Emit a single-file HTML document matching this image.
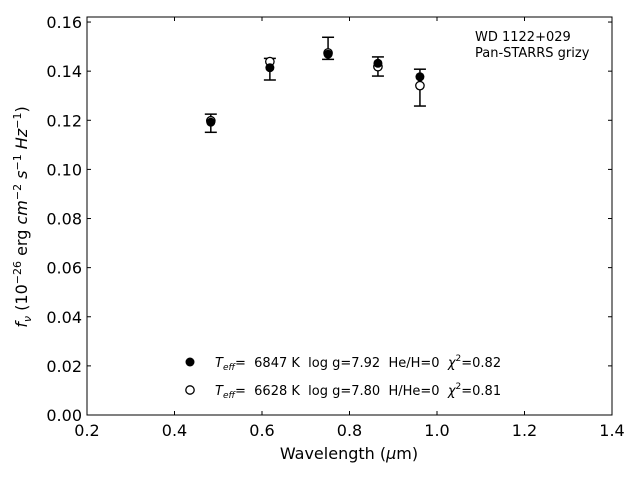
<!DOCTYPE html>
<html><head><meta charset="utf-8"><style>
body{margin:0;background:#fff;}
svg text{font-family:"DejaVu Sans","Liberation Sans",sans-serif;fill:#000;white-space:pre;}
</style></head><body>
<svg id="chart" width="640" height="480" xmlns="http://www.w3.org/2000/svg" xml:space="preserve">
<rect x="87" y="17" width="525" height="398" fill="none" stroke="#000" stroke-width="1"/>
<g id="ticks"></g>
<g id="marks"></g>
<text x="349" y="459" text-anchor="middle" font-size="16">Wavelength (<tspan font-style="italic">μ</tspan>m)</text>
<text transform="translate(27,217) rotate(-90)" text-anchor="middle" font-size="16"><tspan font-style="italic">f<tspan font-size="11" dy="4">ν</tspan></tspan><tspan dy="-4"> (10</tspan><tspan font-size="11" dy="-6">−26</tspan><tspan dy="6"> erg </tspan><tspan font-style="italic">cm</tspan><tspan font-size="11" dy="-6">−2</tspan><tspan dy="6" font-style="italic"> s</tspan><tspan font-size="11" dy="-6">−1</tspan><tspan dy="6" font-style="italic"> Hz</tspan><tspan font-size="11" dy="-6">−1</tspan><tspan dy="6">)</tspan></text>
<text x="475" y="41" font-size="13">WD 1122+029</text>
<text x="475" y="57" font-size="13">Pan-STARRS grizy</text>
<g>
<circle cx="190" cy="362" r="4.5" fill="#000"/>
<text x="215" y="367" font-size="13"><tspan font-style="italic">T</tspan><tspan font-style="italic" font-size="9" dy="3">eff</tspan><tspan dy="-3">=  6847 K  log g=7.92  He/H=0  </tspan><tspan font-style="italic">χ</tspan><tspan font-size="9" dy="-6">2</tspan><tspan dy="6">=0.82</tspan></text>
<circle cx="190" cy="390" r="4.2" fill="#fff" stroke="#000" stroke-width="1.3"/>
<text x="215" y="395" font-size="13"><tspan font-style="italic">T</tspan><tspan font-style="italic" font-size="9" dy="3">eff</tspan><tspan dy="-3">=  6628 K  log g=7.80  H/He=0  </tspan><tspan font-style="italic">χ</tspan><tspan font-size="9" dy="-6">2</tspan><tspan dy="6">=0.81</tspan></text>
</g>
</svg>
<script>
const wavelengths=[0.483,0.618,0.751,0.865,0.961];
const observedFlux=[0.1188,0.1408,0.1493,0.1419,0.1333];
const observedErr=[0.0037,0.0044,0.0045,0.0039,0.0075];
const modelHeH=[0.1192,0.1414,0.1469,0.1432,0.1377];
const modelHHe=[0.1198,0.1439,0.1474,0.1418,0.1341];
const xTicks=[0.2,0.4,0.6,0.8,1.0,1.2,1.4];
const xTickLabels=["0.2","0.4","0.6","0.8","1.0","1.2","1.4"];
const yTicks=[0,0.02,0.04,0.06,0.08,0.10,0.12,0.14,0.16];
const yTickLabels=["0.00","0.02","0.04","0.06","0.08","0.10","0.12","0.14","0.16"];
const NS="http://www.w3.org/2000/svg";
const L=87,R=612,T=17,B=415;
function xs(v){return L+(v-0.2)/1.2*(R-L);}
function ys(v){return B-v*2456;}
function mk(tag,attrs,parent){const e=document.createElementNS(NS,tag);for(const k in attrs)e.setAttribute(k,attrs[k]);parent.appendChild(e);return e;}
const tg=document.getElementById('ticks'),mg=document.getElementById('marks');
xTicks.forEach((v,i)=>{const x=xs(v);
 let t=mk('line',{x1:x,x2:x,y1:B,y2:B-4,stroke:'#000'},tg);
 
 
 let t2=mk('line',{x1:x,x2:x,y1:T,y2:T+4,stroke:'#000'},tg);
 
 
 let l=mk('text',{x:x,y:B+21,'text-anchor':'middle','font-size':16},tg);l.textContent=xTickLabels[i];
 
 
});
yTicks.forEach((v,i)=>{const y=ys(v);
 let t=mk('line',{x1:L,x2:L+4,y1:y,y2:y,stroke:'#000'},tg);
 
 
 let t2=mk('line',{x1:R,x2:R-4,y1:y,y2:y,stroke:'#000'},tg);
 
 
 let l=mk('text',{x:L-5,y:y+6,'text-anchor':'end','font-size':16},tg);l.textContent=yTickLabels[i];
 
 
});
wavelengths.forEach((w,i)=>{const x=xs(w);
 const y1=ys(observedFlux[i]+observedErr[i]),y2=ys(observedFlux[i]-observedErr[i]);
 const g=mk('g',{},mg);
 
 
 mk('line',{x1:x,x2:x,y1:y1,y2:y2,stroke:'#000','stroke-width':1.5},g);
 mk('line',{x1:x-6,x2:x+6,y1:y1,y2:y1,stroke:'#000','stroke-width':1.5},g);
 mk('line',{x1:x-6,x2:x+6,y1:y2,y2:y2,stroke:'#000','stroke-width':1.5},g);
 const o=mk('circle',{cx:x,cy:ys(modelHHe[i]),r:4.2,fill:'#fff',stroke:'#000','stroke-width':1.3},mg);
 
 
 const f=mk('circle',{cx:x,cy:ys(modelHeH[i]),r:4.5,fill:'#000'},mg);
 
 
});
</script>
</body></html>
